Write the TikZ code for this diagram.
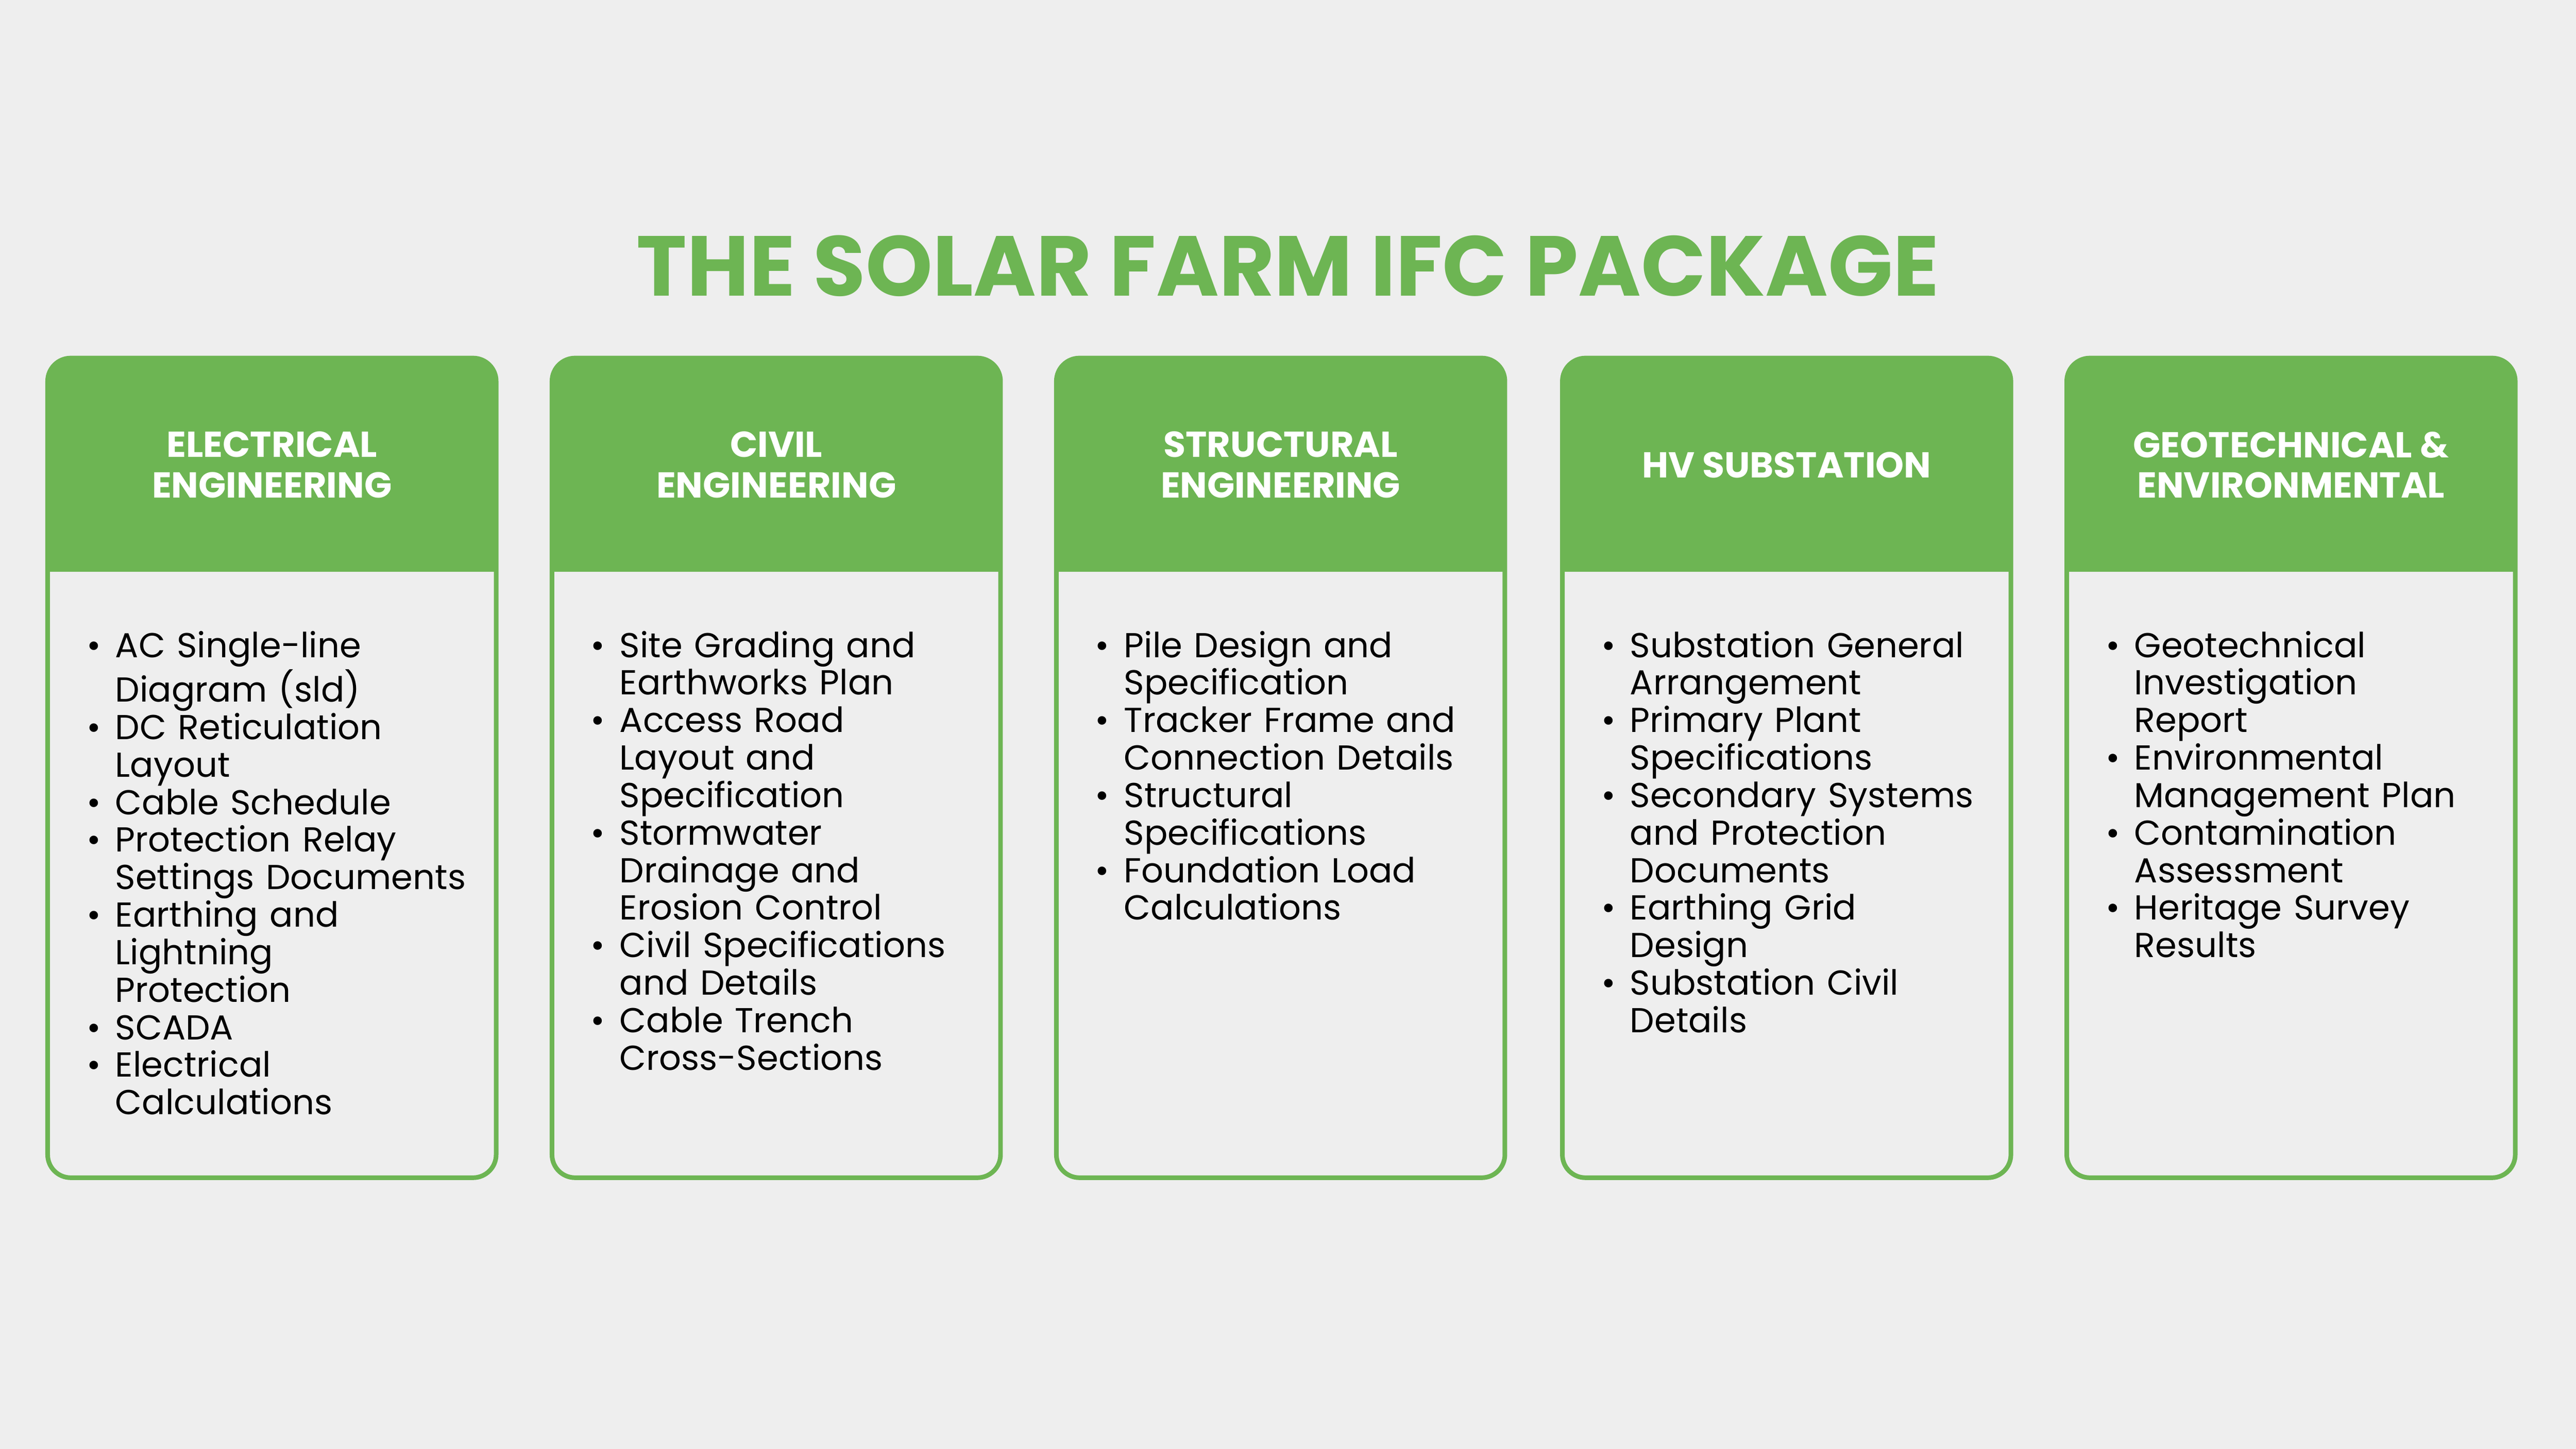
\documentclass[tikz,border=0pt]{standalone}
\usepackage{fontspec}
\setmainfont{Poppins}
\usepackage{enumitem}
\definecolor{farmgreen}{HTML}{6DB553}
\definecolor{paper}{HTML}{EEEEEE}
\tikzset{
  panel/.style={draw=farmgreen, line width=1.6pt, rounded corners=8pt},
  head/.style={fill=farmgreen, rounded corners=8pt},
  headtext/.style={text=white, font=\bfseries\fontsize{12.5}{14}\selectfont, align=center},
  body/.style={anchor=north west, text width=5.6cm, inner sep=0pt, font=\fontsize{12}{13}\selectfont}
}
\newcommand\farmpanel[4]{%
  \fill[head] (#1,534) -- (#1,664) -- (#1+273,664) -- (#1+273,534) -- cycle;
  \fill[farmgreen] (#1,534) rectangle (#1+273,560);
  \draw[panel] (#1,165) rectangle (#1+273,664);
  \node[headtext] (#2h) at (#1+136.5,599) {#3};
  \node[body] (#2b) at (#1+25,505) {\begin{itemize}[leftmargin=9pt,labelsep=5pt,nosep,label=\textbullet]#4\end{itemize}};
}
\begin{document}
\begin{tikzpicture}[x=0.02cm,y=0.02cm]
\fill[paper] (0,0) rectangle (1568,882);
\node[text=farmgreen, font=\bfseries\fontsize{29.5}{30}\selectfont] (title) at (784,720) {THE SOLAR FARM IFC PACKAGE};

\farmpanel{29}{elec}{ELECTRICAL\\ENGINEERING}{%
  \item AC Single-line\newline Diagram (sld)
  \item DC Reticulation\newline Layout
  \item Cable Schedule
  \item Protection Relay\newline Settings Documents
  \item Earthing and\newline Lightning\newline Protection
  \item SCADA
  \item Electrical\newline Calculations}
\farmpanel{336}{civil}{CIVIL\\ENGINEERING}{%
  \item Site Grading and\newline Earthworks Plan
  \item Access Road\newline Layout and\newline Specification
  \item Stormwater\newline Drainage and\newline Erosion Control
  \item Civil Specifications\newline and Details
  \item Cable Trench\newline Cross-Sections}
\farmpanel{643}{struct}{STRUCTURAL\\ENGINEERING}{%
  \item Pile Design and\newline Specification
  \item Tracker Frame and\newline Connection Details
  \item Structural\newline Specifications
  \item Foundation Load\newline Calculations}
\farmpanel{951}{hv}{HV SUBSTATION}{%
  \item Substation General\newline Arrangement
  \item Primary Plant\newline Specifications
  \item Secondary Systems\newline and Protection\newline Documents
  \item Earthing Grid\newline Design
  \item Substation Civil\newline Details}
\farmpanel{1258}{geo}{GEOTECHNICAL \&\\ENVIRONMENTAL}{%
  \item Geotechnical\newline Investigation\newline Report
  \item Environmental\newline Management Plan
  \item Contamination\newline Assessment
  \item Heritage Survey\newline Results}
\end{tikzpicture}
\end{document}
